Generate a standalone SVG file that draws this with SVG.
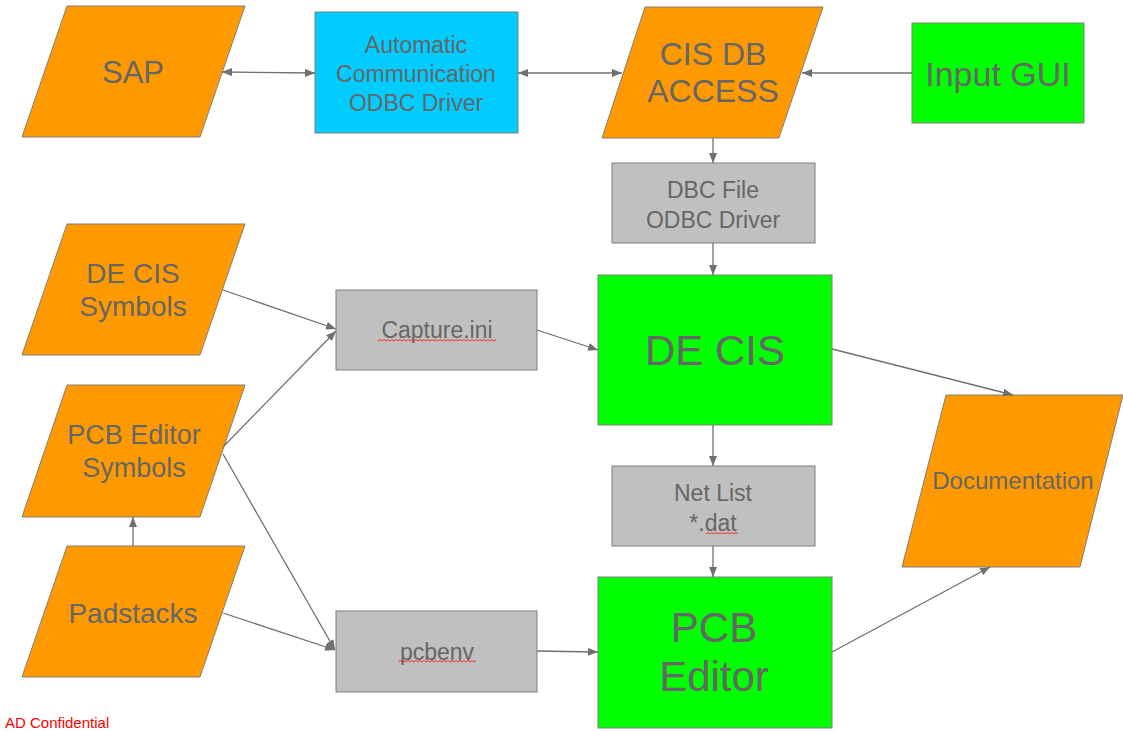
<svg xmlns="http://www.w3.org/2000/svg" width="1123" height="731" viewBox="0 0 1123 731">
<style>
.par{fill:#FF9900;stroke:#7f7f7f;stroke-width:1}
.blue{fill:#00CCFF;stroke:#7f7f7f;stroke-width:1}
.green{fill:#00FF00;stroke:#7f7f7f;stroke-width:1}
.gray{fill:#C0C0C0;stroke:#7f7f7f;stroke-width:1}
text{font-family:"Liberation Sans",Arial,sans-serif;fill:#666666;text-anchor:middle}
.c line{stroke:#6f6f6f;stroke-width:1.3;fill:none}
.sq{stroke:#ff2020;stroke-width:0.9;fill:none}
</style>
<defs>
<marker id="ah" viewBox="0 0 10 8" refX="10" refY="4" markerWidth="10" markerHeight="8" markerUnits="userSpaceOnUse" orient="auto-start-reverse">
<path d="M0,0 L10,4 L0,8 Z" fill="#6f6f6f"/>
</marker>
</defs>
<g id="sap"><polygon class="par" points="67,6 245,6 200,137 22,137"/><text x="133" y="83" font-size="31">SAP</text></g>
<g id="autocomm"><rect class="blue" x="315" y="12" width="203" height="121"/><text x="416" y="53" font-size="23">Automatic</text><text x="416" y="82" font-size="23">Communication</text><text x="416" y="111" font-size="23">ODBC Driver</text></g>
<g id="cisdb"><polygon class="par" points="645,7 823,7 779,138 602,138"/><text x="713" y="65" font-size="32">CIS DB</text><text x="713" y="102" font-size="32">ACCESS</text></g>
<g id="inputgui"><rect class="green" x="912" y="23" width="172" height="100"/><text x="998" y="86" font-size="34">Input GUI</text></g>
<g id="dbcfile"><rect class="gray" x="612" y="163" width="203" height="80"/><text x="713" y="198" font-size="23">DBC File</text><text x="713" y="228" font-size="23">ODBC Driver</text></g>
<g id="decis"><rect class="green" x="598" y="275" width="234" height="150"/><text x="715" y="365" font-size="42">DE CIS</text></g>
<g id="netlist"><rect class="gray" x="612" y="466" width="203" height="80"/><text x="713" y="501" font-size="23">Net List</text><text x="713" y="531" font-size="23">*.dat</text></g>
<g id="pcbeditor"><rect class="green" x="598" y="577" width="234" height="151"/><text x="714" y="642" font-size="42">PCB</text><text x="714" y="691" font-size="42">Editor</text></g>
<g id="decissym"><polygon class="par" points="67,224 245,224 200,355 22,355"/><text x="133" y="283" font-size="28">DE CIS</text><text x="133" y="316" font-size="28">Symbols</text></g>
<g id="pcbsym"><polygon class="par" points="67,385 245,385 200,517 22,517"/><text x="134" y="444" font-size="27">PCB Editor</text><text x="134" y="477" font-size="27">Symbols</text></g>
<g id="padstacks"><polygon class="par" points="67,546 245,546 200,677 22,677"/><text x="133" y="623" font-size="28">Padstacks</text></g>
<g id="captureini"><rect class="gray" x="336" y="290" width="201" height="80"/><text x="437" y="338" font-size="23">Capture.ini</text></g>
<g id="pcbenv"><rect class="gray" x="336" y="611" width="201" height="81"/><text x="437" y="660" font-size="23">pcbenv</text></g>
<g id="documentation"><polygon class="par" points="946,395 1123,395 1080,567 902,567"/><text x="1013" y="489" font-size="24">Documentation</text></g>
<g id="squiggles">
<path class="sq" d="M378,341 l2,-1.5 l2,1.5 l2,-1.5 l2,1.5 l2,-1.5 l2,1.5 l2,-1.5 l2,1.5 l2,-1.5 l2,1.5 l2,-1.5 l2,1.5 l2,-1.5 l2,1.5 l2,-1.5 l2,1.5 l2,-1.5 l2,1.5 l2,-1.5 l2,1.5 l2,-1.5 l2,1.5 l2,-1.5 l2,1.5 l2,-1.5 l2,1.5 l2,-1.5 l2,1.5 l2,-1.5 l2,1.5 l2,-1.5 l2,1.5 l2,-1.5 l2,1.5 l2,-1.5 l2,1.5 l2,-1.5 l2,1.5 l2,-1.5 l2,1.5 l2,-1.5 l2,1.5 l2,-1.5 l2,1.5 l2,-1.5 l2,1.5 l2,-1.5 l2,1.5 l2,-1.5 l2,1.5 l2,-1.5 l2,1.5 l2,-1.5 l2,1.5 l2,-1.5 l2,1.5 l2,-1.5 l2,1.5 l2,-1.5"/>
<path class="sq" d="M398,662 l2,-1.5 l2,1.5 l2,-1.5 l2,1.5 l2,-1.5 l2,1.5 l2,-1.5 l2,1.5 l2,-1.5 l2,1.5 l2,-1.5 l2,1.5 l2,-1.5 l2,1.5 l2,-1.5 l2,1.5 l2,-1.5 l2,1.5 l2,-1.5 l2,1.5 l2,-1.5 l2,1.5 l2,-1.5 l2,1.5 l2,-1.5 l2,1.5 l2,-1.5 l2,1.5 l2,-1.5 l2,1.5 l2,-1.5 l2,1.5 l2,-1.5 l2,1.5 l2,-1.5 l2,1.5 l2,-1.5 l2,1.5 l2,-1.5"/>
<path class="sq" d="M706,534 l2,-1.5 l2,1.5 l2,-1.5 l2,1.5 l2,-1.5 l2,1.5 l2,-1.5 l2,1.5 l2,-1.5 l2,1.5 l2,-1.5 l2,1.5 l2,-1.5 l2,1.5 l2,-1.5 l2,1.5"/>
</g>
<g id="connectors" class="c">
<line x1="222" y1="72" x2="315" y2="73" marker-start="url(#ah)" marker-end="url(#ah)"/>
<line x1="518" y1="73" x2="622" y2="73" marker-start="url(#ah)" marker-end="url(#ah)"/>
<line x1="912" y1="73" x2="802" y2="73" marker-end="url(#ah)"/>
<line x1="713" y1="138" x2="713" y2="163" marker-end="url(#ah)"/>
<line x1="713" y1="243" x2="713" y2="275" marker-end="url(#ah)"/>
<line x1="713" y1="425" x2="713" y2="466" marker-end="url(#ah)"/>
<line x1="713" y1="546" x2="713" y2="577" marker-end="url(#ah)"/>
<line x1="223" y1="290" x2="336" y2="329" marker-end="url(#ah)"/>
<line x1="223" y1="447" x2="336" y2="331" marker-end="url(#ah)"/>
<line x1="223" y1="454" x2="335" y2="650" marker-end="url(#ah)"/>
<line x1="223" y1="613" x2="335" y2="650" marker-end="url(#ah)"/>
<line x1="133" y1="546" x2="133" y2="517" marker-end="url(#ah)"/>
<line x1="537" y1="330" x2="598" y2="350" marker-end="url(#ah)"/>
<line x1="537" y1="651" x2="598" y2="652" marker-end="url(#ah)"/>
<line x1="832" y1="349" x2="1013" y2="395" marker-end="url(#ah)"/>
<line x1="832" y1="652" x2="990" y2="567" marker-end="url(#ah)"/>
</g>
<text x="5" y="728" font-size="15" style="fill:#FF0000;text-anchor:start">AD Confidential</text>
</svg>
